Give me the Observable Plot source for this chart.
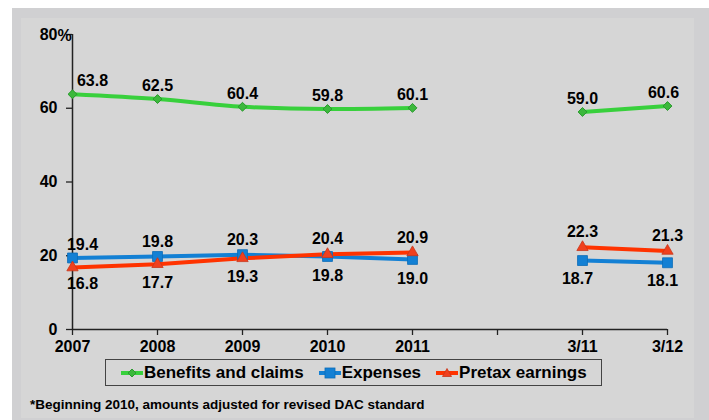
<!DOCTYPE html>
<html>
<head>
<meta charset="utf-8">
<script src="https://cdn.jsdelivr.net/npm/d3@7"></script>
<script src="https://cdn.jsdelivr.net/npm/@observablehq/plot@0.6"></script>
<style>
  html, body { margin: 0; padding: 0; background: #fff; }
  #wrap { position: relative; width: 709px; height: 420px; overflow: hidden; background: #fff;
          font-family: "Liberation Sans", Arial, sans-serif; font-weight: bold; color: #000; }
  #outer { position: absolute; left: 12px; top: 8px; width: 697px; height: 412px; background: #d0d0d2; }
  #inner { position: absolute; left: 21px; top: 18px; width: 673px; height: 400px; background: #d6d6d6; }
  #chart { position: absolute; left: 0; top: 0; }
  #legend { position: absolute; left: 105px; top: 359px; width: 497px; height: 27px;
            border: 1px solid #444; box-sizing: border-box; display: flex; align-items: center;
            padding-left: 15px; gap: 15px; font-size: 17px; }
  .item { display: flex; align-items: center; white-space: nowrap; }
  .item svg { display: block; margin-right: 1px; }
  #note { position: absolute; left: 30px; top: 397px; font-size: 13.5px; white-space: nowrap; }
</style>
</head>
<body>
<div id="wrap">
  <div id="outer"></div>
  <div id="inner"></div>
  <div id="chart"></div>
  <div id="legend"></div>
  <div id="note">*Beginning 2010, amounts adjusted for revised DAC standard</div>
</div>
<script>
const categories = ["2007", "2008", "2009", "2010", "2011", "", "3/11", "3/12"];
const benefits = [63.8, 62.5, 60.4, 59.8, 60.1, null, 59.0, 60.6];
const expenses = [19.4, 19.8, 20.3, 19.8, 19.0, null, 18.7, 18.1];
const pretax   = [16.8, 17.7, 19.3, 20.4, 20.9, null, 22.3, 21.3];
const yTicks = [0, 20, 40, 60, 80];
const seriesNames = ["Benefits and claims", "Expenses", "Pretax earnings"];

const GREEN = "#38d03c", GREEN_M = "#3cb83c", GREEN_S = "#2a9a2e";
const BLUE = "#1380d4", BLUE_M = "#1380d4", BLUE_S = "#0c6cb8";
const RED = "#ff3300", RED_M = "#f0401e", RED_S = "#c8361a";

const rows = categories.map((c, i) => ({
  c, i, b: benefits[i], e: expenses[i], p: pretax[i]
}));
const valid = rows.filter(d => d.b != null);
const fmt = v => v.toFixed(1);
const num = v => (v == null ? NaN : v);
const last = categories.length - 1;

const txt = {fontSize: 16, fontWeight: "bold", fill: "#000", textAnchor: "middle"};

const plot = Plot.plot({
  width: 709, height: 420,
  marginLeft: 72, marginRight: 42, marginTop: 34, marginBottom: 91,
  style: {background: "transparent", fontFamily: "'Liberation Sans', Arial, sans-serif",
          fontSize: "16px", fontWeight: "bold", color: "#000", overflow: "visible"},
  x: {type: "point", domain: categories, padding: 0},
  y: {domain: [0, 80]},
  marks: [
    Plot.axisY({ticks: yTicks, tickSize: 6, tickPadding: 9, label: null, stroke: "#222", strokeWidth: 1.3, fill: "#000", fontSize: 16}),
    Plot.axisX({tickSize: 6, tickPadding: 5, label: null, stroke: "#222", strokeWidth: 1.3, fill: "#000", fontSize: 16}),
    Plot.text([80], {y: d => d, frameAnchor: "left", dx: -15, textAnchor: "start", text: () => "%", fontSize: 16, fontWeight: "bold", fill: "#000", dy: 1}),
    Plot.ruleX([categories[0]], {stroke: "#222", strokeWidth: 1.5}),
    Plot.ruleY([0], {stroke: "#222", strokeWidth: 1.5}),

    Plot.line(rows, {x: "c", y: d => num(d.b), stroke: GREEN, strokeWidth: 4, curve: "monotone-x"}),
    Plot.line(rows, {x: "c", y: d => num(d.e), stroke: BLUE, strokeWidth: 4}),
    Plot.line(rows, {x: "c", y: d => num(d.p), stroke: RED, strokeWidth: 4}),

    Plot.dot(valid, {x: "c", y: "b", symbol: "diamond2", r: 4, fill: GREEN_M, stroke: GREEN_S, strokeWidth: 1}),
    Plot.dot(valid, {x: "c", y: "e", symbol: "square", r: 5.6, fill: BLUE_M, stroke: BLUE_S, strokeWidth: 0.8}),
    Plot.dot(valid, {x: "c", y: "p", symbol: "triangle", r: 4.2, fill: RED_M, stroke: RED_S, strokeWidth: 0.8}),

    // benefits labels (above)
    Plot.text(valid, {filter: d => d.i === 0, x: "c", y: "b", text: d => fmt(d.b), dy: -13, dx: 20, ...txt}),
    Plot.text(valid, {filter: d => d.i > 0 && d.i < last, x: "c", y: "b", text: d => fmt(d.b), dy: -13, ...txt}),
    Plot.text(valid, {filter: d => d.i === last, x: "c", y: "b", text: d => fmt(d.b), dy: -13, dx: -4, ...txt}),

    // lower pair: upper label above, lower label below
    Plot.text(valid, {filter: d => d.i === 0, x: "c", y: d => Math.max(d.e, d.p), text: d => fmt(Math.max(d.e, d.p)), dy: -13, dx: 10, ...txt}),
    Plot.text(valid, {filter: d => d.i > 0, x: "c", y: d => Math.max(d.e, d.p), text: d => fmt(Math.max(d.e, d.p)), dy: -15, ...txt}),
    Plot.text(valid, {filter: d => d.i === 0, x: "c", y: d => Math.min(d.e, d.p), text: d => fmt(Math.min(d.e, d.p)), dy: 16, dx: 10, ...txt}),
    Plot.text(valid, {filter: d => d.i > 0 && d.i < last - 1, x: "c", y: d => Math.min(d.e, d.p), text: d => fmt(Math.min(d.e, d.p)), dy: 19, ...txt}),
    Plot.text(valid, {filter: d => d.i >= last - 1, x: "c", y: d => Math.min(d.e, d.p), text: d => fmt(Math.min(d.e, d.p)), dy: 18, dx: -5, ...txt})
  ]
});
document.getElementById("chart").appendChild(plot);

// legend
const legendDefs = [
  {name: seriesNames[0], line: GREEN, fill: GREEN_M, stroke: GREEN_S, shape: "diamond"},
  {name: seriesNames[1], line: BLUE, fill: BLUE_M, stroke: BLUE_S, shape: "square"},
  {name: seriesNames[2], line: RED, fill: RED_M, stroke: RED_S, shape: "triangle"}
];
const legend = document.getElementById("legend");
for (const d of legendDefs) {
  const item = document.createElement("div");
  item.className = "item";
  let shape;
  if (d.shape === "diamond") shape = `<path d="M11,2 L15,6 L11,10 L7,6 Z" fill="${d.fill}" stroke="${d.stroke}" stroke-width="1"/>`;
  else if (d.shape === "square") shape = `<rect x="6" y="1" width="10" height="10" fill="${d.fill}" stroke="${d.stroke}" stroke-width="0.8"/>`;
  else shape = `<path d="M11,1.5 L15.5,9.5 L6.5,9.5 Z" fill="${d.fill}" stroke="${d.stroke}" stroke-width="0.8"/>`;
  item.innerHTML = `<svg width="22" height="12" viewBox="0 0 22 12"><line x1="0" y1="6" x2="22" y2="6" stroke="${d.line}" stroke-width="4"/>${shape}</svg><span>${d.name}</span>`;
  legend.appendChild(item);
}
</script>
</body>
</html>
